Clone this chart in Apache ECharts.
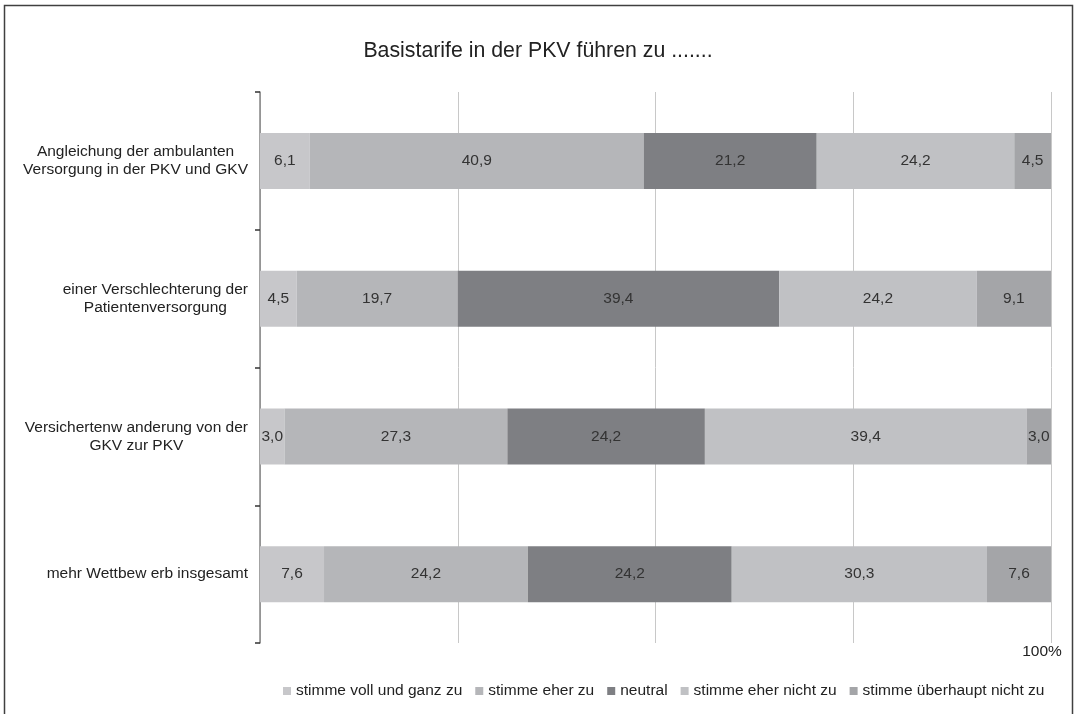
<!DOCTYPE html>
<html>
<head>
<meta charset="utf-8">
<script src="https://cdn.jsdelivr.net/npm/echarts@6/dist/echarts.min.js"></script>
<style>
html,body{margin:0;padding:0;background:#fff;}
#chart{width:1076px;height:714px;}
</style>
</head>
<body>
<div id="chart"></div>
<script>
const titleText = 'Basistarife in der PKV führen zu .......';
const categories = [
  'Angleichung der ambulanten\nVersorgung in der PKV und GKV',
  'einer Verschlechterung der\nPatientenversorgung',
  'Versichertenw anderung von der\nGKV zur PKV',
  'mehr Wettbew erb insgesamt'
];
const seriesNames = ['stimme voll und ganz zu', 'stimme eher zu', 'neutral', 'stimme eher nicht zu', 'stimme überhaupt nicht zu'];
const vollUndGanz = [6.1, 4.5, 3.0, 7.6];
const eherZu = [40.9, 19.7, 27.3, 24.2];
const neutral = [21.2, 39.4, 24.2, 24.2];
const eherNicht = [24.2, 24.2, 39.4, 30.3];
const ueberhauptNicht = [4.5, 9.1, 3.0, 7.6];
const xTickLabels = {100: '100%'};

const seriesValues = [vollUndGanz, eherZu, neutral, eherNicht, ueberhauptNicht];
// 100% stacked: each bar is scaled to its row total
const rowTotals = categories.map((c, j) => seriesValues.reduce((s, arr) => s + arr[j], 0));
const colors = ['#c7c7ca', '#b5b6b9', '#7e7f83', '#c0c1c4', '#a4a5a8'];
const font = '"Liberation Sans", Arial, sans-serif';

const chart = echarts.init(document.getElementById('chart'), null, {renderer: 'canvas'});
chart.setOption({
  animation: false,
  color: colors,
  textStyle: {fontFamily: font},
  title: {
    text: titleText,
    left: 'center',
    top: 36,
    textStyle: {fontFamily: font, fontSize: 21.3, fontWeight: 'normal', color: '#222'}
  },
  graphic: [{
    type: 'rect',
    shape: {x: 4.5, y: 5.5, width: 1068, height: 720},
    style: {fill: 'none', stroke: '#404040', lineWidth: 1.5},
    silent: true
  }],
  legend: {
    data: seriesNames,
    left: 278,
    top: 678,
    icon: 'rect',
    itemWidth: 8,
    itemHeight: 8,
    itemGap: 13,
    textStyle: {fontFamily: font, fontSize: 15.5, color: '#222'}
  },
  grid: {left: 260, top: 92, width: 791, height: 551, containLabel: false},
  xAxis: {
    type: 'value',
    min: 0,
    max: 100,
    interval: 25,
    axisLine: {show: false},
    axisTick: {show: false},
    splitLine: {show: true, lineStyle: {color: '#c8c8c8', width: 1}},
    axisLabel: {
      formatter: v => xTickLabels[v] || '',
      fontFamily: font,
      fontSize: 15.5,
      color: '#222',
      margin: 1,
      padding: [0, 18, 0, 0]
    }
  },
  yAxis: {
    type: 'category',
    data: categories,
    inverse: true,
    axisLine: {show: true, lineStyle: {color: '#858585', width: 1.5}},
    axisTick: {show: true, length: 5, lineStyle: {color: '#333', width: 1.5}},
    splitLine: {show: false},
    axisLabel: {
      margin: 12,
      formatter: v => v.split('\n').map(l => '{a|' + l + '}').join('\n'),
      rich: {a: {align: 'center', fontFamily: font, fontSize: 15.5, lineHeight: 18, color: '#222'}}
    }
  },
  series: seriesNames.map((name, i) => ({
    name: name,
    type: 'bar',
    stack: 'total',
    barWidth: 56,
    data: seriesValues[i].map((v, j) => ({value: v / rowTotals[j] * 100})),
    itemStyle: {color: colors[i]},
    label: {
      show: true,
      position: 'inside',
      formatter: p => seriesValues[i][p.dataIndex].toFixed(1).replace('.', ','),
      fontFamily: font,
      fontSize: 15.5,
      color: '#333'
    },
    emphasis: {disabled: true}
  }))
});
</script>
</body>
</html>
